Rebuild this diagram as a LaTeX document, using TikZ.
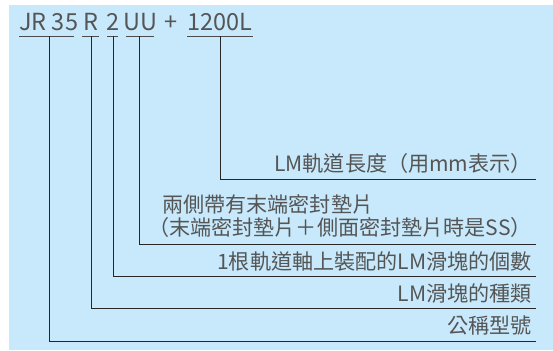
\documentclass[tikz,border=0pt]{standalone}
\usepackage{fontspec}
\setmainfont{Noto Sans CJK TC}
\newfontfamily\cjk{Noto Sans CJK TC}
\definecolor{bgblue}{RGB}{199,233,251}
\definecolor{txtgray}{RGB}{85,85,85}
\begin{document}
\begin{tikzpicture}[x=1bp,y=-1bp,
  lbl/.style={inner sep=0pt,text=txtgray,font=\cjk\fontsize{21.1bp}{23bp}\selectfont},
  code/.style={inner sep=0pt,text=txtgray,font=\cjk\fontsize{23.5bp}{25bp}\selectfont},
  wire/.style={line width=0.9bp,draw=black!85},
  uline/.style={line width=0.9bp,draw=black!70}]
\useasboundingbox (0,0) rectangle (553,350);
\fill[bgblue] (9,5) rectangle (553,350);
% top code
\node[code,anchor=base west] (jr) at (19,30) {JR 35};
\node[code,anchor=base] (r) at (91,30) {R};
\node[code,anchor=base] (two) at (113,30) {2};
\node[code,anchor=base] (uu) at (140,30) {UU};
\node[code,anchor=base] (plus) at (171,30) {+};
\node[code,anchor=base] (len) at (220,30) {1200L};
% underlines
\draw[uline] (19,36) -- (74,36);
\draw[uline] (82,36) -- (99,36);
\draw[uline] (107,36) -- (118,36);
\draw[uline] (126,36) -- (154,36);
\draw[uline] (187,36) -- (253,36);
% labels
\node[lbl,anchor=base east] (llen) at (532,171.5) {LM軌道長度（用mm表示）};
\node[lbl,anchor=base west] (luu1) at (162,212.5) {兩側帶有末端密封墊片};
\node[lbl,anchor=base east] (luu2) at (532,235.5) {（末端密封墊片＋側面密封墊片時是SS）};
\node[lbl,anchor=base east] (ltwo) at (532,269) {1根軌道軸上裝配的LM滑塊的個數};
\node[lbl,anchor=base east] (lr) at (532,301) {LM滑塊的種類};
\node[lbl,anchor=base east] (ljr) at (532,333.5) {公稱型號};
% connector anchors
\coordinate (jrtop) at (49.5,36);
\coordinate (rtop) at (91,36);
\coordinate (twotop) at (113,36);
\coordinate (uutop) at (139.5,36);
\coordinate (lentop) at (220,36);
\coordinate (jrend) at (536,341);
\coordinate (rend) at (536,308);
\coordinate (twoend) at (536,276);
\coordinate (uuend) at (536,244);
\coordinate (lenend) at (536,179);
\draw[wire] (jrtop) |- (jrend);
\draw[wire] (rtop) |- (rend);
\draw[wire] (twotop) |- (twoend);
\draw[wire] (uutop) |- (uuend);
\draw[wire] (lentop) |- (lenend);
\end{tikzpicture}
\end{document}
